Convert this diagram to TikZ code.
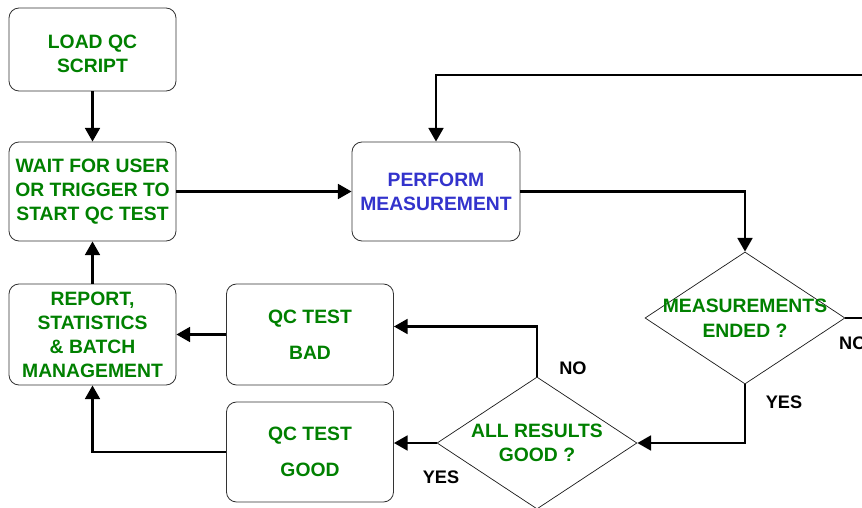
\documentclass[tikz,border=0pt]{standalone}
\usepackage{fontspec}
\setmainfont{Liberation Sans}
\usetikzlibrary{arrows.meta,shapes.geometric}
\definecolor{qcgreen}{RGB}{0,128,0}
\definecolor{qcblue}{RGB}{51,51,204}

\begin{document}
\begin{tikzpicture}[x=0.03cm,y=-0.03cm,
    box/.style={draw=black!80,line width=0.7pt,rounded corners=0.3cm,minimum width=5.01cm,align=center,
        font=\fontsize{16.5}{20.5}\selectfont\bfseries,text=qcgreen},
    decision/.style={draw=black!90,line width=0.6pt,diamond,minimum width=6cm,minimum height=3.96cm,inner sep=0pt},
    dtext/.style={align=center,font=\fontsize{16.5}{21}\selectfont\bfseries,text=qcgreen},
    tag/.style={font=\fontsize{15.5}{18}\selectfont\bfseries,text=black},
    flow/.style={line width=2.4pt,-{Triangle[length=0.41cm,width=0.44cm]}}]
    \useasboundingbox (0,0) rectangle (862,508);
    \node[box,minimum height=2.49cm,text height=1.4cm] (load) at (92.5,49.5) {LOAD QC\\SCRIPT};
    \node[box,minimum height=2.97cm] (wait) at (92.5,191.5) {WAIT FOR USER\\OR TRIGGER TO\\START QC TEST};
    \node[box,minimum height=3.03cm] (report) at (92.5,334.5) {REPORT,\\STATISTICS\\\& BATCH\\MANAGEMENT};
    \node[box,minimum height=3.03cm] (bad) at (310,334.5) {QC TEST\\[0.35cm]BAD};
    \node[box,minimum height=3cm] (good) at (310,452) {QC TEST\\[0.35cm]GOOD};
    \node[box,minimum width=5.04cm,minimum height=2.97cm,text=qcblue] (perform) at (436,191.5) {PERFORM\\MEASUREMENT};
    \node[decision] (ended) at (745,318) {};
    \node[dtext] (endedtext) at (ended) {MEASUREMENTS\\ENDED ?};
    \node[decision] (allgood) at (537,443) {};
    \node[dtext] (allgoodtext) at (allgood) {ALL RESULTS\\GOOD ?};
    \node[tag,anchor=west] (noended) at (835,343) {NO};
    \node[tag] (yesended) at (784,402) {YES};
    \node[tag] (noall) at (573,368) {NO};
    \node[tag] (yesall) at (441,477) {YES};
    \draw[flow] (load) -- (wait);
    \draw[flow] (wait) -- (perform);
    \draw[flow] (perform.east) -| (ended.north);
    \draw[flow] (ended.east) -| (900,75) -| (perform.north);
    \draw[flow] (ended.south) |- (allgood.east);
    \draw[flow] (allgood.north) |- ([yshift=0.24cm]bad.east);
    \draw[flow] (allgood.west) -- (allgood.west -| good.east);
    \draw[flow] (bad) -- (report);
    \draw[flow] (good.west) -| (report.south);
    \draw[flow] (report) -- (wait);
\end{tikzpicture}
\end{document}
